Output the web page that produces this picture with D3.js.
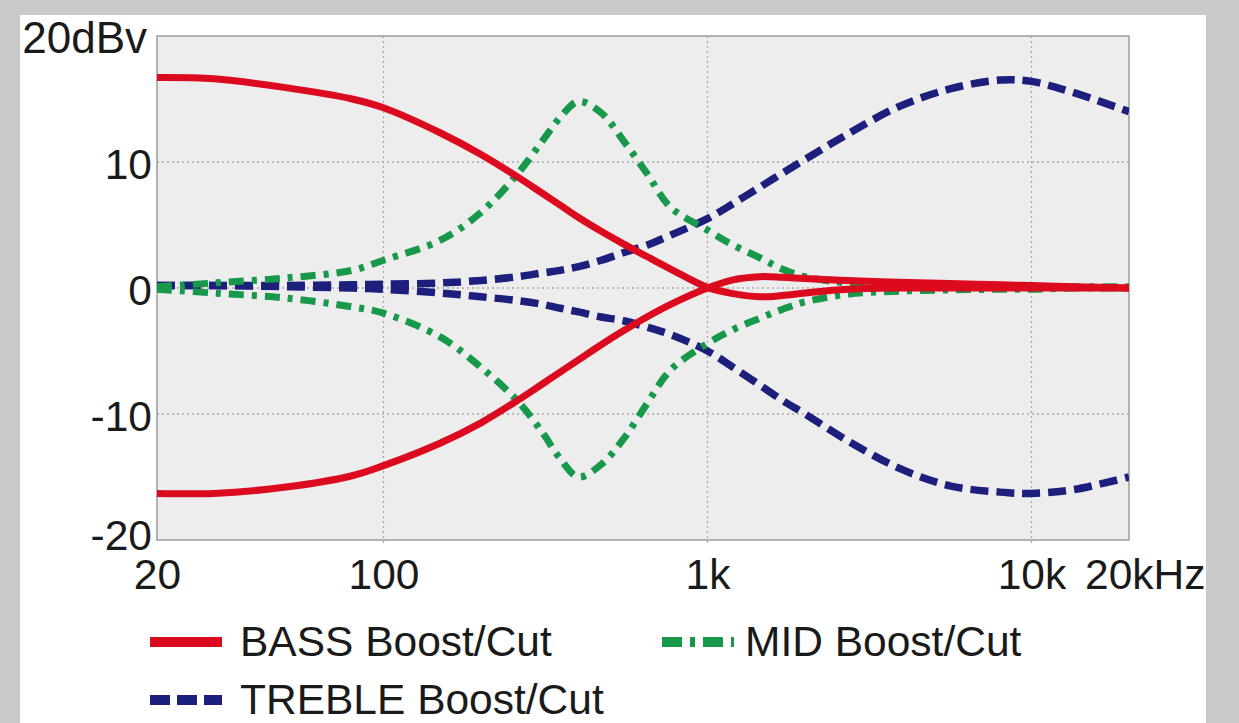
<!DOCTYPE html>
<html>
<head>
<meta charset="utf-8">
<script src="https://cdn.jsdelivr.net/npm/d3@7"></script>
<style>
  html, body { margin: 0; padding: 0; background: #c9c9c9; }
  svg { display: block; font-family: "Liberation Sans", Arial, Helvetica, sans-serif; }
</style>
</head>
<body>
<script>
// frequencies (Hz) the curves were read at
var freqs = [20, 30, 50, 80, 100, 150, 200, 260, 310, 350, 400, 470, 550, 650, 770,
             1000, 1200, 1450, 1700, 2000, 2700, 3900, 5600, 8000, 10000, 13500, 20000];

// response in dBv at each frequency
var bassBoost   = [16.7, 16.6, 15.9, 15.0, 14.3, 12.3, 10.6, 8.8, 7.5, 6.6, 5.6, 4.5, 3.5, 2.5, 1.5,
                   0.05, -0.45, -0.7, -0.6, -0.4, -0.1, 0, 0, 0, 0, 0, 0];
var bassCut     = [-16.3, -16.3, -15.8, -14.9, -14.1, -12.3, -10.7, -8.9, -7.6, -6.7, -5.7, -4.5, -3.4, -2.3, -1.3,
                   0, 0.65, 0.9, 0.85, 0.75, 0.6, 0.45, 0.35, 0.25, 0.2, 0.1, 0];
var midBoost    = [0.1, 0.4, 0.8, 1.4, 2.2, 3.8, 6.0, 9.1, 11.7, 13.5, 14.8, 13.9, 11.7, 9.1, 6.4,
                   4.6, 3.4, 2.4, 1.5, 0.9, 0.4, 0.25, 0.2, 0.1, 0.1, 0.1, 0.1];
var midCut      = [-0.1, -0.4, -0.8, -1.5, -2.0, -3.9, -6.3, -9.0, -11.5, -13.5, -15.0, -14.0, -12.0, -9.2, -6.5,
                   -4.4, -3.3, -2.4, -1.7, -1.1, -0.5, -0.25, -0.15, -0.1, -0.1, 0, 0];
var trebleBoost = [0.2, 0.2, 0.2, 0.25, 0.3, 0.4, 0.6, 0.9, 1.2, 1.4, 1.7, 2.2, 2.8, 3.4, 4.2,
                   5.5, 6.7, 8.0, 9.1, 10.2, 12.2, 14.4, 15.8, 16.5, 16.4, 15.5, 14.0];
var trebleCut   = [0.2, 0.2, 0.1, 0, -0.1, -0.4, -0.7, -1.0, -1.3, -1.6, -1.9, -2.3, -2.6, -3.1, -3.7,
                   -5.0, -6.3, -7.7, -8.9, -10.0, -12.1, -14.3, -15.7, -16.2, -16.3, -16.0, -15.0];

var xTicks  = [20, 100, 1000, 10000, 20000];
var xLabels = ["20", "100", "1k", "10k", "20kHz"];
var yTicks  = [-20, -10, 0, 10, 20];
var yLabels = ["-20", "-10", "0", "10", "20dBv"];
var legendNames = ["BASS Boost/Cut", "MID Boost/Cut", "TREBLE Boost/Cut"];

var w = 1239, h = 723;
var plotL = 157, plotR = 1129, plotT = 36, plotB = 540;
var fs = 42.5;

var red = "#dc0a1e", green = "#17984a", blue = "#1d1f7c";

var svg = d3.select("body").append("svg")
    .attr("width", w)
    .attr("height", h);

// white panel on the grey frame
svg.append("rect")
    .attr("x", 20).attr("y", 15)
    .attr("width", 1186).attr("height", h - 15)
    .attr("fill", "#ffffff");

var x = d3.scaleLog().domain([20, 20000]).range([plotL, plotR]);
var y = d3.scaleLinear().domain([-20, 20]).range([plotB, plotT]);

svg.append("rect")
    .attr("x", plotL).attr("y", plotT)
    .attr("width", plotR - plotL).attr("height", plotB - plotT)
    .attr("fill", "#ededee");

svg.append("clipPath").attr("id", "plot")
  .append("rect")
    .attr("x", plotL).attr("y", plotT)
    .attr("width", plotR - plotL).attr("height", plotB - plotT);

// dotted grid
svg.append("g").selectAll("line")
    .data([100, 1000, 10000])
  .enter().append("line")
    .attr("x1", function(d) { return x(d); })
    .attr("x2", function(d) { return x(d); })
    .attr("y1", plotT).attr("y2", plotB + 6)
    .attr("stroke", "#a9a9a9")
    .attr("stroke-width", 1.3)
    .attr("stroke-dasharray", "2,3");

svg.append("g").selectAll("line")
    .data([-10, 0, 10])
  .enter().append("line")
    .attr("x1", plotL).attr("x2", plotR)
    .attr("y1", function(d) { return y(d); })
    .attr("y2", function(d) { return y(d); })
    .attr("stroke", "#a9a9a9")
    .attr("stroke-width", 1.3)
    .attr("stroke-dasharray", "2,3");

svg.append("rect")
    .attr("x", plotL).attr("y", plotT)
    .attr("width", plotR - plotL).attr("height", plotB - plotT)
    .attr("fill", "none")
    .attr("stroke", "#9c9c9c")
    .attr("stroke-width", 1.5);

var line = d3.line()
    .x(function(d, i) { return x(freqs[i]); })
    .y(function(d) { return y(d); })
    .curve(d3.curveCatmullRom.alpha(0.5));

var series = [
  { values: trebleBoost, color: blue,  width: 7.5, dash: "18,8" },
  { values: trebleCut,   color: blue,  width: 7.5, dash: "18,8" },
  { values: midBoost,    color: green, width: 7,   dash: "15,8,5,8" },
  { values: midCut,      color: green, width: 7,   dash: "15,8,5,8" },
  { values: bassBoost,   color: red,   width: 7,   dash: null },
  { values: bassCut,     color: red,   width: 7,   dash: null }
];

svg.append("g")
    .attr("clip-path", "url(#plot)")
  .selectAll("path")
    .data(series)
  .enter().append("path")
    .attr("d", function(d) { return line(d.values); })
    .attr("fill", "none")
    .attr("stroke", function(d) { return d.color; })
    .attr("stroke-width", function(d) { return d.width; })
    .attr("stroke-dasharray", function(d) { return d.dash; });

// axes, labels only
var xAxis = svg.append("g")
    .attr("transform", "translate(0," + plotB + ")")
    .call(d3.axisBottom(x).tickValues(xTicks)
      .tickFormat(function(d, i) { return xLabels[i]; })
      .tickSize(0).tickPadding(19));
xAxis.select(".domain").remove();
xAxis.attr("font-size", null).attr("font-family", null);
xAxis.selectAll("text")
    .attr("font-size", fs)
    .attr("fill", "#1a1a1a")
    .filter(function(d) { return d === 20000; })
    .attr("text-anchor", "end")
    .attr("x", 76);

var yAxis = svg.append("g")
    .attr("transform", "translate(" + plotL + ",0)")
    .call(d3.axisLeft(y).tickValues(yTicks)
      .tickFormat(function(d, i) { return yLabels[i]; })
      .tickSize(0).tickPadding(5));
yAxis.select(".domain").remove();
yAxis.attr("font-size", null).attr("font-family", null);
yAxis.selectAll("text")
    .attr("font-size", fs)
    .attr("fill", "#1a1a1a")
    .attr("dy", function(d) { return d === -20 ? "0.22em" : "0.38em"; });
// the unit label is a bit larger and further left
yAxis.selectAll("text")
    .filter(function(d) { return d === 20; })
    .attr("font-size", 44)
    .attr("x", -10);

// legend
var legend = [
  { name: legendNames[0], color: red,   dash: null,       x: 148, y: 642, tx: 92 },
  { name: legendNames[1], color: green, dash: "20,8,5,8", x: 660, y: 642, tx: 85 },
  { name: legendNames[2], color: blue,  dash: "20,7",     x: 148, y: 700, tx: 92 }
];

var lg = svg.append("g").selectAll("g")
    .data(legend)
  .enter().append("g")
    .attr("transform", function(d) { return "translate(" + d.x + "," + d.y + ")"; });

lg.append("line")
    .attr("x1", 2).attr("x2", 74)
    .attr("stroke", function(d) { return d.color; })
    .attr("stroke-width", 10)
    .attr("stroke-dasharray", function(d) { return d.dash; });

lg.append("text")
    .attr("x", function(d) { return d.tx; })
    .attr("y", 14)
    .attr("font-size", fs)
    .attr("fill", "#1a1a1a")
    .text(function(d) { return d.name; });
</script>
</body>
</html>
